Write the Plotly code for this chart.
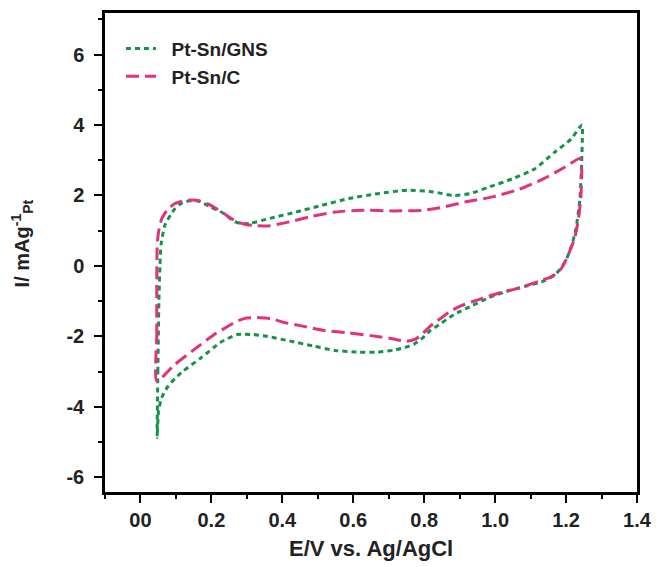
import plotly.graph_objects as go

# Pt-Sn/GNS cyclic voltammogram (closed loop, starting at the lower vertex)
gns_e = [0.047, 0.049, 0.052, 0.055, 0.058, 0.069, 0.085, 0.097, 0.112, 0.125, 0.145, 0.161,
         0.180, 0.198, 0.235, 0.263, 0.285, 0.310, 0.365, 0.439, 0.512, 0.586, 0.669, 0.752,
         0.826, 0.882, 0.928, 0.983, 1.048, 1.112, 1.168, 1.214, 1.245,
         1.246, 1.244, 1.239, 1.228, 1.216, 1.198, 1.173, 1.140, 1.085, 1.030, 0.983, 0.937,
         0.900, 0.872, 0.845, 0.817, 0.795, 0.771, 0.745, 0.716, 0.669, 0.614, 0.549, 0.485,
         0.420, 0.355, 0.318, 0.290, 0.272, 0.226, 0.171, 0.115, 0.078, 0.060, 0.051, 0.047]
gns_i = [-4.87, -3.00, -1.00, 0.00, 0.60, 1.16, 1.45, 1.62, 1.76, 1.82, 1.85, 1.84,
         1.77, 1.67, 1.49, 1.27, 1.20, 1.21, 1.35, 1.53, 1.72, 1.91, 2.05, 2.15,
         2.10, 2.00, 2.05, 2.24, 2.47, 2.76, 3.23, 3.60, 4.00,
         3.70, 2.95, 1.91, 1.06, 0.59, 0.12, -0.21, -0.42, -0.58, -0.73, -0.90, -1.12,
         -1.30, -1.46, -1.65, -1.84, -2.05, -2.22, -2.32, -2.39, -2.45, -2.45, -2.40, -2.27,
         -2.13, -2.00, -1.95, -1.94, -1.95, -2.17, -2.61, -3.03, -3.41, -3.74, -4.12, -4.87]

# Pt-Sn/C cyclic voltammogram
c_e = [0.046, 0.046, 0.046, 0.047, 0.050, 0.060, 0.075, 0.097, 0.129, 0.161, 0.198, 0.235,
       0.272, 0.300, 0.328, 0.365, 0.420, 0.485, 0.549, 0.623, 0.716, 0.799, 0.845, 0.918,
       0.993, 1.066, 1.140, 1.196, 1.240,
       1.244, 1.242, 1.235, 1.224, 1.206, 1.187, 1.160, 1.122, 1.066, 1.011, 0.965, 0.937,
       0.900, 0.872, 0.845, 0.817, 0.795, 0.775, 0.750, 0.706, 0.650, 0.586, 0.522, 0.457,
       0.402, 0.370, 0.337, 0.300, 0.272, 0.254, 0.208, 0.152, 0.097, 0.046]
c_i = [-3.27, -2.00, -0.50, 0.50, 0.90, 1.34, 1.58, 1.77, 1.86, 1.86, 1.72, 1.49,
       1.25, 1.17, 1.14, 1.14, 1.25, 1.41, 1.53, 1.58, 1.56, 1.58, 1.65, 1.82,
       1.96, 2.17, 2.49, 2.80, 3.05,
       2.76, 2.00, 1.34, 0.78, 0.31, -0.07, -0.30, -0.44, -0.63, -0.77, -0.92, -1.01,
       -1.15, -1.30, -1.50, -1.71, -1.93, -2.08, -2.14, -2.06, -1.98, -1.90, -1.84, -1.71,
       -1.60, -1.50, -1.47, -1.48, -1.57, -1.67, -1.95, -2.37, -2.80, -3.27]

x_tickvals = [0, 0.2, 0.4, 0.6, 0.8, 1.0, 1.2, 1.4]
x_ticktext = ["00", "0.2", "0.4", "0.6", "0.8", "1.0", "1.2", "1.4"]
y_tickvals = [-6, -4, -2, 0, 2, 4, 6]
y_ticktext = ["-6", "-4", "-2", "0", "2", "4", "6"]

GREEN = "#16924a"
PINK = "#e0337c"
FONT = "Liberation Sans"

fig = go.Figure()
fig.add_trace(go.Scatter(
    x=gns_e, y=gns_i, mode="lines", name="\u00a0\u00a0<b>Pt-Sn/GNS</b>",
    line=dict(color=GREEN, width=3, dash="5px,4px", shape="spline", smoothing=0.6),
))
fig.add_trace(go.Scatter(
    x=c_e, y=c_i, mode="lines", name="\u00a0\u00a0<b>Pt-Sn/C</b>",
    line=dict(color=PINK, width=3, dash="13px,6px", shape="spline", smoothing=0.6),
))

axis_common = dict(
    showline=True, linecolor="black", linewidth=2.5, mirror=True,
    showgrid=False, zeroline=False,
    ticks="outside", ticklen=8, tickwidth=2, tickcolor="black",
    tickfont=dict(family=FONT, size=20, color="#222222", weight="bold"),
)

fig.update_xaxes(
    range=[-0.1, 1.4], tickvals=x_tickvals, ticktext=x_ticktext,
    minor=dict(dtick=0.1, tick0=0, ticks="outside", ticklen=4, tickwidth=2, tickcolor="black"),
    **axis_common,
)
fig.update_yaxes(
    range=[-6.42, 7.18], tickvals=y_tickvals, ticktext=y_ticktext,
    minor=dict(dtick=1, tick0=-7, ticks="outside", ticklen=4, tickwidth=2, tickcolor="black"),
    ticklabelstandoff=6,
    **axis_common,
)

fig.add_annotation(
    text="<b>E/V vs. Ag/AgCl</b>", xref="paper", yref="paper",
    x=0.5, y=-0.118, yanchor="middle", showarrow=False,
    font=dict(family=FONT, size=22, color="#222222"),
)
fig.add_annotation(
    text="<b>I/ mAg<sup>-1</sup><sub>Pt</sub></b>", xref="paper", yref="paper",
    x=-0.156, y=0.519, xanchor="center", yanchor="middle", textangle=-90, showarrow=False,
    font=dict(family=FONT, size=20, color="#222222"),
)

fig.update_layout(
    width=662, height=567,
    margin=dict(l=105, r=15, t=10, b=75),
    plot_bgcolor="white", paper_bgcolor="white",
    legend=dict(
        x=0.03, y=0.965, xanchor="left", yanchor="top",
        font=dict(family=FONT, size=19, color="#222222"),
        bgcolor="rgba(0,0,0,0)", itemwidth=30,
    ),
)

fig.write_html(
    "out.html",
    config={"displayModeBar": False},
    post_script="document.body.style.margin='0';",
)
